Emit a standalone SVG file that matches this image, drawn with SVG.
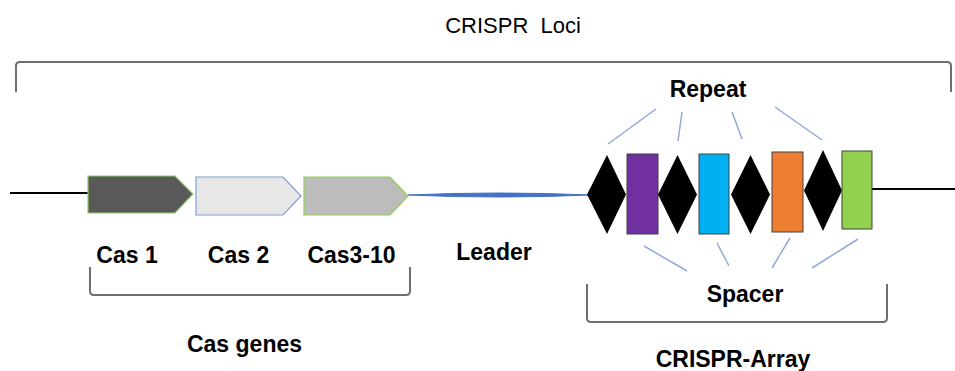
<svg xmlns="http://www.w3.org/2000/svg" width="955" height="371" viewBox="0 0 955 371">
<style>
.t{font-family:"Liberation Sans",Arial,sans-serif;fill:#000;text-anchor:middle}
.b{font-weight:bold;font-size:23px}
.br{fill:none;stroke:#6e6e6e;stroke-width:2}
.cn{stroke:#8eaadb;stroke-width:1.5;fill:none}
.dm{fill:#000}
.sp{stroke:#404040;stroke-width:1}
</style>
<rect width="955" height="371" fill="#fff"/>
<g id="title"><text class="t" x="513" y="33" font-size="22" xml:space="preserve">CRISPR  Loci</text></g>
<g id="loci-bracket"><path class="br" d="M16 92 L16 66 Q16 62 20 62 L947 62 Q951 62 951 66 L951 92"/></g>
<g id="connectors">
<line x1="10" y1="193" x2="88" y2="193" stroke="#000" stroke-width="2"/>
<line x1="872" y1="189" x2="955" y2="189" stroke="#000" stroke-width="2"/>
<path id="leader-line" d="M408 195 Q498 191 590 195 Q498 199 408 195 Z" fill="#4472c4" stroke="#4472c4" stroke-width="1"/>
<line class="cn" x1="656" y1="109" x2="608" y2="144"/>
<line class="cn" x1="682" y1="112" x2="678" y2="141"/>
<line class="cn" x1="732" y1="112" x2="742" y2="139"/>
<line class="cn" x1="775" y1="107" x2="822" y2="140"/>
<line class="cn" x1="644" y1="246" x2="687" y2="271"/>
<line class="cn" x1="717" y1="243" x2="729" y2="266"/>
<line class="cn" x1="790" y1="238" x2="772" y2="268"/>
<line class="cn" x1="858" y1="239" x2="812" y2="268"/>
</g>
<g id="cas1"><polygon points="88,176 175,176 193,194 175,213 88,213" fill="#595959" stroke="#8fc96b" stroke-width="1.2"/><text class="t b" x="127" y="263">Cas 1</text></g>
<g id="cas2"><polygon points="196,177 283,177 301,196 283,215 196,215" fill="#e7e7e7" stroke="#7f9fd4" stroke-width="1.2"/><text class="t b" x="238.5" y="263">Cas 2</text></g>
<g id="cas3-10"><polygon points="304,177 390,177 408,196 390,215 304,215" fill="#bcbcbc" stroke="#92d050" stroke-width="1.2"/><text class="t b" x="351.5" y="263">Cas3-10</text></g>
<g id="leader"><text class="t b" x="494" y="260">Leader</text></g>
<g id="repeat1"><polygon class="dm" points="607,155 626,194.5 607,234 587,194.5"/></g>
<g id="spacer1"><rect x="627" y="154" width="31" height="80" fill="#7030a0" class="sp"/></g>
<g id="repeat2"><polygon class="dm" points="677.5,155 697,194.5 677.5,234 658,194.5"/></g>
<g id="spacer2"><rect x="699" y="154" width="30" height="80" fill="#00b0f0" class="sp"/></g>
<g id="repeat3"><polygon class="dm" points="750.5,155 770,194.5 750.5,234 731,194.5"/></g>
<g id="spacer3"><rect x="772" y="152" width="31" height="80" fill="#ed7d31" class="sp"/></g>
<g id="repeat4"><polygon class="dm" points="823,150 842,190.5 823,231 804,190.5"/></g>
<g id="spacer4"><rect x="842" y="151" width="30" height="78" fill="#92d050" class="sp"/></g>
<g id="repeat-label"><text class="t b" x="708" y="97">Repeat</text></g>
<g id="spacer-label"><text class="t b" x="745" y="302">Spacer</text></g>
<g id="cas-bracket"><path class="br" d="M90 267 L90 291 Q90 295 94 295 L406 295 Q410 295 410 291 L410 267"/></g>
<g id="cas-genes"><text class="t b" x="244.5" y="352">Cas genes</text></g>
<g id="array-bracket"><path class="br" d="M587 284 L587 318 Q587 322 591 322 L883 322 Q887 322 887 318 L887 284"/></g>
<g id="crispr-array"><text class="t b" x="733" y="367">CRISPR-Array</text></g>
</svg>
